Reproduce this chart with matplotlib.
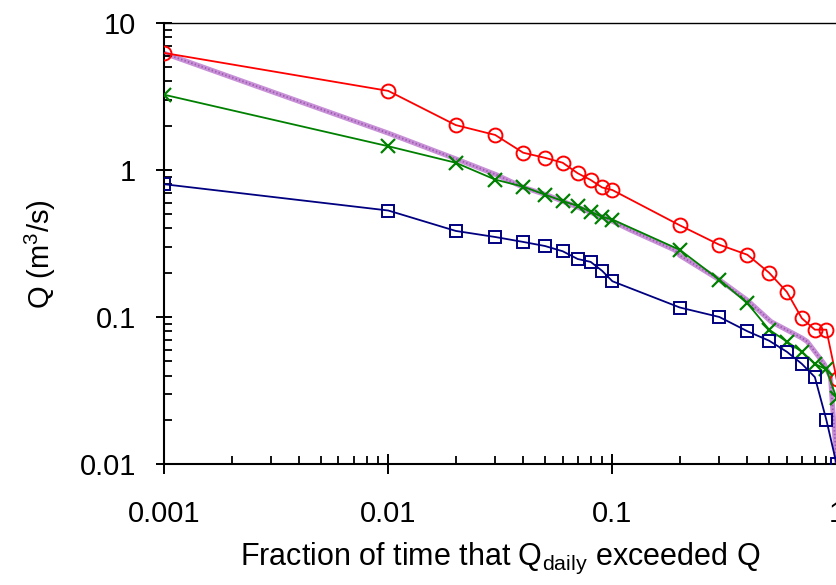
from matplotlib import pyplot as plt

plt.rcParams['font.family'] = ['Liberation Sans', 'DejaVu Sans']
plt.rcParams['mathtext.fontset'] = 'custom'
plt.rcParams['mathtext.rm'] = 'Liberation Sans'
plt.rcParams['mathtext.it'] = 'Liberation Sans'
plt.rcParams['mathtext.default'] = 'regular'

# exceedance fractions for the marked series
frac = [0.001, 0.01, 0.02, 0.03, 0.04, 0.05, 0.06, 0.07, 0.08, 0.09, 0.1,
        0.2, 0.3, 0.4, 0.5, 0.6, 0.7, 0.8, 0.9, 1.0]

q_red = [6.25, 3.45, 2.02, 1.73, 1.31, 1.21, 1.12, 0.95, 0.855, 0.76, 0.73,
         0.42, 0.31, 0.265, 0.20, 0.148, 0.098, 0.082, 0.082, 0.038]
q_green = [3.25, 1.45, 1.12, 0.86, 0.77, 0.68, 0.615, 0.57, 0.52, 0.48, 0.46,
           0.286, 0.179, 0.124, 0.082, 0.068, 0.058, 0.048, 0.044, 0.028]
q_blue = [0.80, 0.53, 0.385, 0.35, 0.324, 0.304, 0.28, 0.248, 0.237, 0.206, 0.175,
          0.116, 0.100, 0.080, 0.069, 0.058, 0.048, 0.039, 0.020, 0.010]

# daily flow duration curve (thick violet line)
frac_daily = [0.001, 0.01, 0.0203, 0.0305, 0.040, 0.051, 0.072, 0.0855, 0.101, 0.12,
              0.19, 0.2, 0.30, 0.40, 0.51, 0.70, 0.74, 0.88, 0.94, 0.957, 0.99, 1.0]
q_daily = [6.22, 1.78, 1.18, 0.925, 0.762, 0.676, 0.549, 0.494, 0.445, 0.391,
           0.285, 0.262, 0.179, 0.130, 0.093, 0.072, 0.068, 0.048, 0.039, 0.026, 0.0131, 0.0106]

fig = plt.figure(figsize=(8.37, 5.85), dpi=100)
ax = fig.add_axes([0.196, 0.2068, 0.8035, 0.754])

ax.plot(frac_daily, q_daily, color='#c890d6', lw=3.6, solid_joinstyle='round', zorder=1)
ax.plot(frac_daily, q_daily, color='#9c5cb0', lw=1.3, ls=(0, (0.8, 1.2)), zorder=1.1)

ax.plot(frac, q_red, color='red', lw=1.3, marker='o', ms=10, mfc='none', mew=1.4, zorder=3)
ax.plot(frac, q_green, color='green', lw=1.3, marker='x', ms=10, mew=1.6, zorder=3)
ax.plot(frac, q_blue, color='#000080', lw=1.3, marker='s', ms=9, mfc='none', mew=1.4, zorder=3)

ax.set_xscale('log')
ax.set_yscale('log')
ax.set_xlim(0.001, 1)
ax.set_ylim(0.01, 10)
ax.set_xticks([0.001, 0.01, 0.1, 1])
ax.set_xticklabels(['0.001', '0.01', '0.1', '1'])
ax.set_yticks([0.01, 0.1, 1, 10])
ax.set_yticklabels(['0.01', '0.1', '1', '10'])

ax.spines['right'].set_visible(False)
ax.spines['left'].set_linewidth(1.5)
ax.spines['bottom'].set_linewidth(1.5)
ax.spines['top'].set_linewidth(1.0)

ax.tick_params(axis='both', which='major', direction='inout', width=1.4, labelsize=21)
ax.tick_params(axis='x', which='major', length=14, pad=19)
ax.tick_params(axis='y', which='major', length=12, pad=14)
ax.tick_params(axis='x', which='minor', direction='in', length=6, width=1.3)
ax.tick_params(axis='y', which='minor', direction='in', length=5.5, width=1.3)
ax.tick_params(top=False, right=False, which='both')

ax.set_xlabel('Fraction of time that Q$_{daily}$ exceeded Q', fontsize=22, va='center')
ax.xaxis.set_label_coords(0.5, -0.215)
ax.set_ylabel('Q (m$^3$/s)', fontsize=21, va='center')
ax.yaxis.set_label_coords(-0.184, 0.475)

fig.savefig('out.png', dpi=100)
